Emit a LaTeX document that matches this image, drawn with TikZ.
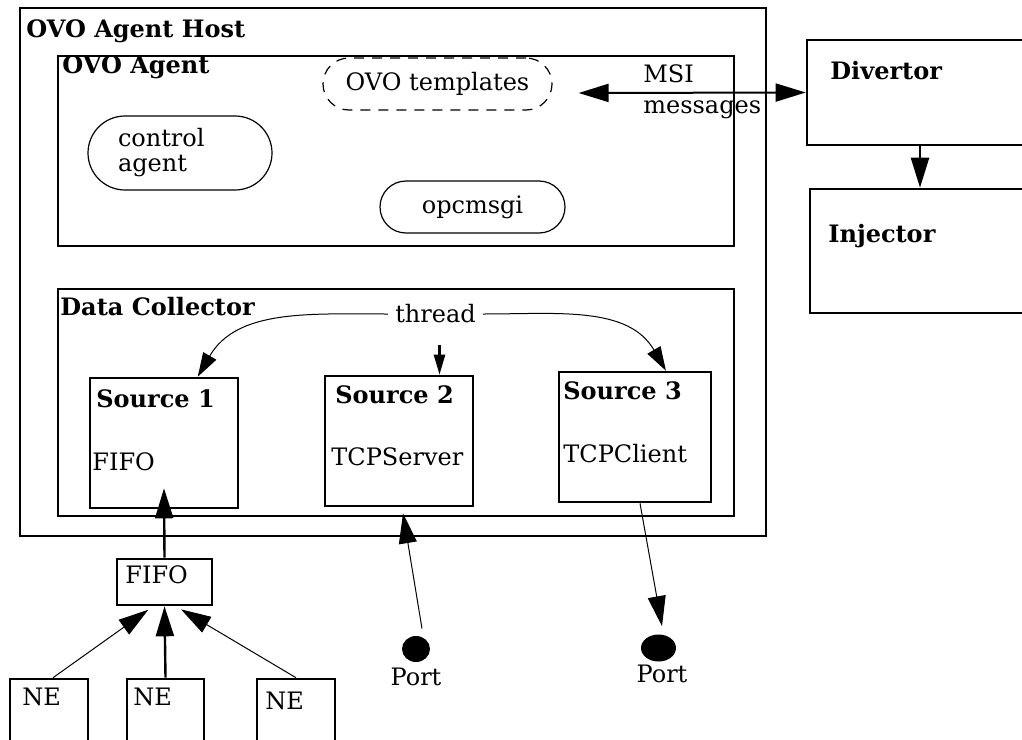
\documentclass[tikz,border=0pt]{standalone}
\usepackage{fontspec}
\setmainfont{DejaVu Serif}
\usetikzlibrary{arrows.meta,shapes.geometric}

\begin{document}
\begin{tikzpicture}[x=0.5pt,y=-0.5pt,
    every node/.style={font=\fontsize{12}{14}\selectfont},
    box/.style={draw,line width=1.3pt,inner sep=0pt},
    pill/.style={draw,line width=0.6pt,inner sep=0pt},
    title/.style={anchor=base west,inner sep=0pt,font=\fontsize{12}{14}\selectfont\bfseries},
    txt/.style={anchor=base west,inner sep=0pt},
    arr/.style={-{Triangle[length=15pt,width=9pt]}},
    sarr/.style={-{Triangle[length=12pt,width=7.5pt]}}]

      \useasboundingbox (0,0) rectangle (1022,739);

      % host and its two parts
      \node [box,minimum width=373pt,minimum height=264pt] (host) at (393,272) {};
      \node [title] (hostlbl) at (26,37) {OVO Agent Host};

      \node [box,minimum width=338pt,minimum height=95pt] (agent) at (396,151) {};
      \node [title] (agentlbl) at (62,73) {OVO Agent};

      \node [box,minimum width=338pt,minimum height=113.5pt] (coll) at (396,402.5) {};
      \node [title] (colllbl) at (60,315) {Data Collector};

      % inside the agent
      \node [pill,dashed,dash pattern=on 5pt off 4pt,rounded corners=13pt,
             minimum width=114.5pt,minimum height=26pt] (tmpl) at (437.5,84) {OVO templates};
      \node [pill,rounded corners=18.5pt,minimum height=37pt,text width=62pt,
             inner xsep=15pt,align=left,font=\fontsize{12}{12.5}\selectfont] (ctrl) at (180,153) {control\\agent};
      \node [pill,rounded corners=13pt,minimum width=92.5pt,minimum height=26pt] (msgi) at (472.5,207) {opcmsgi};

      % divertor and injector
      \node [box,minimum width=113pt,minimum height=52.5pt] (div) at (920,92.5) {};
      \node [title] (divlbl) at (830,79) {Divertor};
      \node [box,minimum width=110pt,minimum height=62pt] (inj) at (920,251) {};
      \node [title] (injlbl) at (828,242) {Injector};

      \draw [line width=1pt,{Triangle[length=15pt,width=9pt]}-{Triangle[length=15pt,width=9pt]}]
            ([xshift=13pt,yshift=-4.5pt]tmpl.east) -- (div.west);
      \node [anchor=north west,inner sep=0pt,align=left,font=\fontsize{12}{15.5}\selectfont] (msi) at (643,64) {MSI\\messages};
      \draw [arr,line width=1.2pt] (div) -- (inj);

      % sources
      \node [box,minimum width=74pt,minimum height=65pt] (s1) at (164,443) {};
      \node [title] (s1lbl) at (96,407) {Source 1};
      \node [txt] (s1txt) at (92,470) {FIFO};

      \node [box,minimum width=74pt,minimum height=65pt] (s2) at (399,441) {};
      \node [title] (s2lbl) at (335,403) {Source 2};
      \node [txt] (s2txt) at (331,465) {TCPServer};

      \node [box,minimum width=76pt,minimum height=65pt] (s3) at (635,437) {};
      \node [title] (s3lbl) at (563,399) {Source 3};
      \node [txt] (s3txt) at (563,462) {TCPClient};

      \node (thread) at (435.5,314) {thread};
      \draw [sarr,line width=0.5pt] (thread.west) to [out=180,in=60] (s1.63);
      \draw [sarr,line width=0.5pt] (thread.east) to [out=0,in=120] (s3.65);
      \draw [-{Triangle[length=10pt,width=5.5pt]},line width=1.2pt] ([xshift=2pt,yshift=-7.5pt]thread.south) -- ([xshift=2pt]thread.south |- s2.north);

      % fifo and network elements
      \node [box,minimum width=47.5pt,minimum height=23pt] (fifo) at (164.5,582) {};
      \node [txt] (fifotxt) at (125,583) {FIFO};
      \draw [arr,line width=1.2pt] (fifo.north) -- ([yshift=10.5pt]s1.south);

      \node [box,minimum width=39pt,minimum height=41pt] (ne1) at (49,720) {};
      \node [txt] (ne1txt) at (22,705) {NE};
      \node [box,minimum width=38.5pt,minimum height=41pt] (ne2) at (165.5,720) {};
      \node [txt] (ne2txt) at (133,705) {NE};
      \node [box,minimum width=39pt,minimum height=41pt] (ne3) at (296,720) {};
      \node [txt] (ne3txt) at (265,709) {NE};

      \draw [arr,line width=0.5pt,shorten >=3pt] ([xshift=2pt]ne1.north) -- (fifo.-115);
      \draw [arr,line width=1.2pt] (ne2.north) -- (fifo.south);
      \draw [arr,line width=0.5pt,shorten >=3pt] (ne3.north) -- (fifo.-65);

      % ports
      \node [ellipse,fill,inner sep=0pt,minimum width=14pt,minimum height=13pt] (port1) at (416,649) {};
      \node [anchor=base,inner sep=0pt] (port1lbl) at (416,685) {Port};
      \node [ellipse,fill,inner sep=0pt,minimum width=17.5pt,minimum height=13.5pt] (port2) at (658.5,648) {};
      \node [anchor=base,inner sep=0pt] (port2lbl) at (662,682) {Port};

      \draw [arr,line width=0.5pt] ([xshift=3pt,yshift=3.5pt]port1.north) -- ([xshift=2pt,yshift=-3pt]s2.south);
      \draw [arr,line width=0.5pt] ([xshift=2.5pt]s3.south) -- ([xshift=1.75pt,yshift=4pt]port2.north);

    \end{tikzpicture}
\end{document}
